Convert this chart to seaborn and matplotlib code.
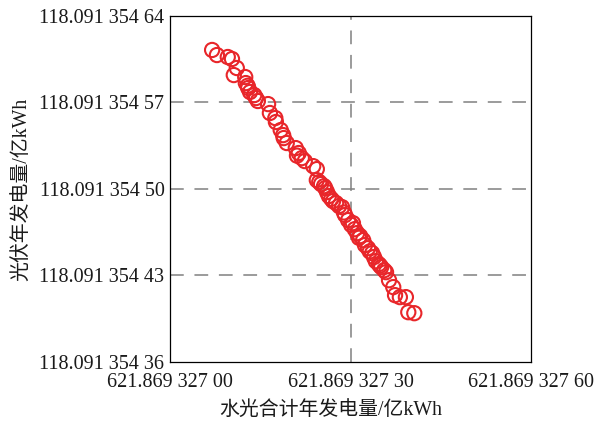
import matplotlib
matplotlib.use("Agg")
import matplotlib.pyplot as plt
import seaborn as sns
import pandas as pd

# offsets in units of 1e-8 (x base 621.869 327 00, y base 118.091 354 00)
x_vals = [7.0, 7.8, 9.6, 10.3, 11.1, 10.6, 12.5, 12.6, 13.0, 13.3, 14.0, 14.3, 14.6,
          16.3, 16.6, 17.5, 17.6, 18.4, 18.8, 18.9, 19.4, 20.9, 21.4, 21.9, 22.4,
          23.8, 24.4, 24.4, 24.8, 25.6, 25.8, 26.1, 26.4, 27.1, 27.6, 28.1, 28.6,
          29.1, 29.6, 30.4, 30.7, 31.1, 31.6, 32.1, 32.4, 32.9, 33.6, 33.9, 34.2,
          34.7, 35.1, 35.6, 35.9, 36.4, 37.1, 37.4, 38.2, 39.2, 39.6, 40.6,
          12.9, 21.1, 25.1, 26.8, 28.9, 30.1, 31.4, 33.2, 34.9]
y_vals = [61.25, 60.84, 60.68, 60.52, 59.79, 59.22, 59.06, 58.57, 58.17, 57.85, 57.60, 57.36, 57.12,
          56.87, 56.15, 55.74, 55.42, 54.77, 54.36, 54.12, 53.72, 53.31, 52.91, 52.50, 52.26,
          51.85, 51.61, 50.72, 50.56, 50.23, 50.07, 49.75, 49.43, 49.02, 48.86, 48.62, 48.53,
          47.89, 47.48, 47.24, 46.75, 46.43, 46.19, 45.86, 45.46, 45.21, 44.81, 44.49, 44.16,
          43.92, 43.68, 43.43, 43.27, 42.62, 42.06, 41.41, 41.25, 41.25, 40.03, 39.95,
          58.35, 52.70, 50.40, 49.20, 48.10, 47.10, 46.05, 44.95, 43.80]

x_ticks = [0, 30, 60]
x_tick_labels = ["621.869 327 00", "621.869 327 30", "621.869 327 60"]
y_ticks = [36, 43, 50, 57, 64]
y_tick_labels = ["118.091 354 36", "118.091 354 43", "118.091 354 50",
                 "118.091 354 57", "118.091 354 64"]
x_label = "水光合计年发电量/亿kWh"
y_label = "光伏年发电量/亿kWh"

df = pd.DataFrame({"x": x_vals, "y": y_vals})

sns.set_theme(style="white")
plt.rcParams['font.family'] = ['Liberation Serif', 'Noto Sans CJK SC', 'DejaVu Sans']

fig = plt.figure(figsize=(5.94, 4.23), dpi=100)
ax = fig.add_axes([0.2862, 0.1442, 0.6078, 0.818])

red = "#e8262a"
sns.scatterplot(data=df, x="x", y="y", ax=ax, marker="o", s=105,
                facecolor="none", edgecolor=red, linewidth=1.5, zorder=3)

ax.set_xlim(0, 60)
ax.set_ylim(36, 64)
ax.set_xticks(x_ticks)
ax.set_xticklabels(x_tick_labels)
ax.set_yticks(y_ticks)
ax.set_yticklabels(y_tick_labels)

for v in [43, 50, 57]:
    ax.axhline(v, color="#808080", lw=1.1, dashes=(9, 7), zorder=1)
ax.axvline(30, color="#808080", lw=1.1, dashes=(9, 7), zorder=1)

for s in ax.spines.values():
    s.set_color("black")
    s.set_linewidth(0.9)
    s.set_visible(True)

ax.tick_params(axis="both", direction="in", length=4, width=0.9, color="black",
               labelsize=14.5, labelcolor="#1a1a1a")
ax.tick_params(axis="x", pad=8)
ax.tick_params(axis="y", pad=4)

ax.set_xlabel(x_label, fontsize=14.3, color="#1a1a1a")
ax.set_ylabel(y_label, fontsize=14.3, labelpad=6, color="#1a1a1a")
ax.xaxis.set_label_coords(0.446, -0.112)

fig.savefig("out.png", dpi=100)
